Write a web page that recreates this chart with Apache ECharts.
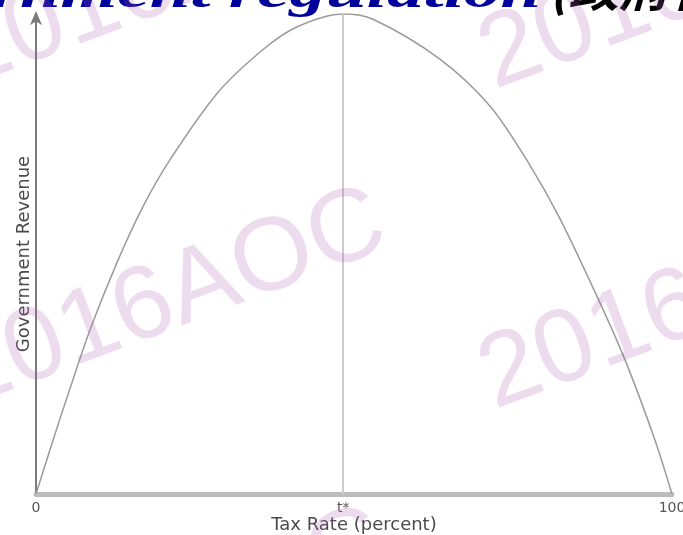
<!DOCTYPE html>
<html>
<head>
<meta charset="utf-8">
<script src="https://cdn.jsdelivr.net/npm/echarts@6/dist/echarts.min.js"></script>
<style>
  html, body { margin: 0; padding: 0; background: #fff; }
  #container { width: 683px; height: 535px; }
</style>
</head>
<body>
<div id="container"></div>
<script>
// Laffer curve: revenue rises then falls with the tax rate
const taxRate = [0, 2.7, 4.9, 8.5, 12.7, 16.8, 21.0, 28.5, 35.7, 41.0, 48.3, 53.0, 63.5, 71.4, 77.2, 82.4, 89.2, 92.9, 97.3, 100];
const revenue = [0, 11.3, 20.2, 34.2, 48.1, 59.8, 69.5, 83.5, 92.6, 97.3, 100, 98.9, 90.6, 80.8, 69.5, 57.3, 38.3, 27.0, 11.3, 0];

const xTickValues = [0, 48.3, 100];
const xTickLabels = ['0', 't*', '100'];
const peakRate = 48.3;

const titleMain = 'Government regulation';
const titleSub = '(政府管制)';
const watermark = '2016AOC';

var dom = document.getElementById('container');
var myChart = echarts.init(dom, null, { renderer: 'canvas' });

// watermark copies, tiled across the picture
const wmSpots = [[168, 300], [168, -20], [168, 620], [698, 302], [698, -18]];
const wmText = wmSpots.map(p => ({
    type: 'text',
    x: p[0],
    y: p[1],
    rotation: 0.36,
    z: 100,
    silent: true,
    style: {
        text: watermark,
        font: 'normal 104px "Liberation Sans"',
        fill: 'rgba(175, 95, 175, 0.22)',
        textAlign: 'center',
        textVerticalAlign: 'middle',
        align: 'center',
        verticalAlign: 'middle'
    }
}));

const titleShadow = {
    shadowColor: 'rgba(0,0,0,0.45)',
    shadowBlur: 3,
    shadowOffsetX: 3,
    shadowOffsetY: 3
};

const option = {
    animation: false,
    backgroundColor: '#fff',
    grid: { left: 36, right: 11, top: 14, bottom: 41, outerBoundsMode: 'none' },
    xAxis: {
        type: 'value',
        min: 0,
        max: 100,
        name: 'Tax Rate (percent)',
        nameLocation: 'middle',
        nameGap: 22,
        nameMoveOverlap: false,
        nameTextStyle: { color: '#4a4a4a', fontSize: 18, fontFamily: 'DejaVu Sans' },
        axisLine: { lineStyle: { color: '#bcbcbc', width: 5 } },
        axisTick: { show: false },
        splitLine: { show: false },
        axisLabel: {
            customValues: xTickValues,
            formatter: v => xTickLabels[xTickValues.indexOf(v)],
            color: '#555',
            fontSize: 14,
            fontFamily: 'DejaVu Sans',
            margin: 7
        }
    },
    yAxis: {
        type: 'value',
        min: 0,
        max: 100,
        name: 'Government Revenue',
        nameLocation: 'middle',
        nameGap: 3,
        nameRotate: 90,
        nameTextStyle: { color: '#4a4a4a', fontSize: 18, fontFamily: 'DejaVu Sans' },
        axisLine: {
            show: true,
            symbol: ['none', 'arrow'],
            symbolSize: [9, 14],
            symbolOffset: [0, 3],
            lineStyle: { color: '#7a7a7a', width: 2 }
        },
        axisTick: { show: false },
        axisLabel: { show: false },
        splitLine: { show: false }
    },
    series: [{
        type: 'line',
        data: taxRate.map((t, i) => [t, revenue[i]]),
        smooth: 0.3,
        symbol: 'none',
        lineStyle: { color: '#9a9a9a', width: 1.5 },
        markLine: {
            silent: true,
            symbol: ['none', 'none'],
            label: { show: false },
            lineStyle: { color: '#cbcbcb', width: 2, type: 'solid' },
            data: [{ xAxis: peakRate }]
        }
    }],
    graphic: [
        {
            type: 'text',
            x: 541,
            y: -5,
            scaleX: 1.52,
            z: 50,
            style: Object.assign({
                text: titleMain,
                font: 'italic bold 48px "Liberation Serif"',
                fill: '#00009a',
                textAlign: 'right',
                textVerticalAlign: 'middle',
                align: 'right',
                verticalAlign: 'middle'
            }, titleShadow)
        },
        {
            type: 'text',
            x: 549,
            y: -10,
            scaleX: 1.15,
            z: 50,
            style: Object.assign({
                text: titleSub,
                font: 'italic bold 44px "Noto Sans CJK SC"',
                fill: '#000',
                textAlign: 'left',
                textVerticalAlign: 'middle',
                align: 'left',
                verticalAlign: 'middle'
            }, titleShadow)
        }
    ].concat(wmText)
};

myChart.setOption(option);
</script>
</body>
</html>
